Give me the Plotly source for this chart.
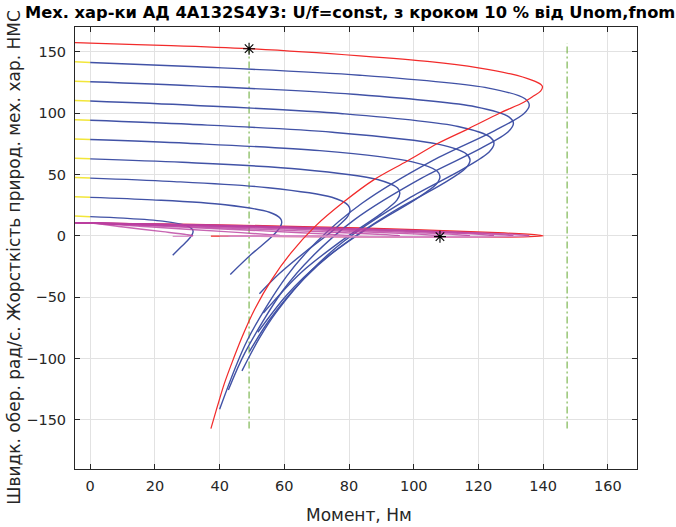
import plotly.graph_objects as go

# ---- Mechanical characteristics omega(M), U/f = const, f = 10 ... 90 % of fnom ----
# first point of each list belongs to the generator region (M < 0)
M_f10 = [-4.7, 0, 10.3, 22.4, 29.8, 31.6, 31.8, 31.5, 30.1, 28.2, 25.5]
W_f10 = [16.2, 15.71, 14.49, 12.05, 8.4, 5.34, 3.51, 1.07, -3.8, -8.7, -15.71]

M_f20 = [-4.7, 0, 19.2, 41.7, 55.4, 58.8, 59.2, 58.7, 56.0, 49.8, 43.3]
W_f20 = [31.9, 31.42, 29.4, 25.4, 19.3, 14.25, 11.22, 7.2, -0.9, -15.0, -31.42]

M_f30 = [-4.7, 0, 24.5, 55.0, 74.7, 79.7, 80.3, 79.6, 75.5, 66.6, 58.4, 52.3]
W_f30 = [47.6, 47.12, 44.5, 39.3, 31.5, 25.0, 21.12, 15.9, 5.5, -12.7, -30.9, -47.12]

M_f40 = [-4.7, 0, 28.5, 64.9, 88.8, 95.0, 95.7, 94.8, 89.8, 78.9, 65.3, 53.5]
W_f40 = [63.3, 62.83, 60.0, 54.4, 46.0, 39.0, 34.83, 29.2, 18.0, -1.6, -29.6, -62.83]

M_f50 = [-4.7, 0, 30.1, 71.0, 99.6, 107.2, 108.1, 107.0, 100.8, 87.5, 71.4, 60.7, 51.8]
W_f50 = [79.0, 78.54, 75.5, 69.5, 60.4, 52.9, 48.34, 42.3, 30.2, 9.1, -21.1, -48.3, -78.54]

M_f60 = [-4.7, 0, 30.8, 74.9, 107.5, 116.3, 117.4, 116.1, 108.9, 93.5, 75.4, 65.9, 55.6, 49.2]
W_f60 = [94.7, 94.25, 91.0, 84.5, 74.8, 66.7, 61.85, 55.4, 42.4, 19.7, -12.7, -35.4, -67.75, -94.25]

M_f70 = [-4.7, 0, 31.4, 78.0, 113.7, 123.6, 124.8, 123.3, 115.3, 98.3, 78.5, 68.3, 57.3, 52.2, 46.9]
W_f70 = [110.4, 109.96, 106.5, 99.6, 89.2, 80.55, 75.36, 68.4, 54.6, 30.4, -4.2, -28.4, -63.0, -83.8, -109.96]

M_f80 = [-4.7, 0, 32.5, 81.3, 119.0, 129.5, 130.8, 129.2, 120.7, 102.7, 81.8, 68.5, 59.6, 47.8, 42.7]
W_f80 = [126.1, 125.66, 122.3, 115.5, 105.3, 96.8, 91.66, 84.9, 71.3, 47.5, 13.5, -17.1, -44.3, -95.3, -125.66]

M_f90 = [-4.7, 0, 33.0, 83.3, 123.1, 134.4, 135.7, 134.0, 124.9, 105.8, 84.0, 70.0, 60.8, 48.6, 40.0]
W_f90 = [141.9, 141.37, 137.9, 131.0, 120.5, 111.8, 106.6, 99.6, 85.7, 61.4, 26.6, -4.8, -32.6, -84.8, -141.37]

# natural characteristic (f = fnom)
M_nat = [-4.7, 0, 25, 49.1, 83.4, 105, 120, 130, 136.5, 139.3, 139.8, 139.2, 137, 134, 126.5,
         117, 107.5, 98, 87.5, 78.5, 69.6, 62, 56, 50.8, 47, 44.3, 41.5, 39.3, 37.3]
W_nat = [157.6, 157.08, 155.2, 152.6, 146.7, 142, 137, 132, 127, 123.5, 121.5, 118, 114, 109, 100,
         87.5, 75.5, 61, 45.5, 28, 8, -14, -36, -60, -82, -100, -120, -139, -157.08]

# ---- Stiffness of the characteristics beta(M) ----
BM_f10 = [-4.7, 0, 10.3, 22.4, 29.8, 31.6, 31.8, 30.1, 28.2, 25.5]
BS_f10 = [10.8, 10.5, 7.21, 3.47, 1.07, 0.26, 0, -0.38, -0.41, -0.38]
BM_f20 = [-4.7, 0, 19.2, 41.7, 55.4, 58.8, 59.2, 56.0, 49.8, 43.3]
BS_f20 = [10.8, 10.5, 7.21, 3.47, 1.07, 0.26, 0, -0.38, -0.40, -0.33]
BM_f30 = [-4.7, 0, 24.5, 55.0, 74.7, 79.7, 80.3, 75.5, 66.6, 52.3]
BS_f30 = [10.8, 10.5, 7.64, 3.94, 1.27, 0.31, 0, -0.45, -0.46, -0.33]
BM_f40 = [-4.7, 0, 28.5, 64.9, 88.8, 95.0, 95.7, 89.8, 78.9, 53.5]
BS_f40 = [10.8, 10.5, 7.80, 4.13, 1.35, 0.34, 0, -0.48, -0.49, -0.26]
BM_f50 = [-4.7, 0, 30.1, 71.0, 99.6, 107.2, 108.1, 100.8, 87.5, 51.8]
BS_f50 = [10.8, 10.5, 8.25, 4.70, 1.63, 0.41, 0, -0.57, -0.57, -0.24]
BM_f60 = [-4.7, 0, 30.8, 74.9, 107.5, 116.3, 117.4, 108.9, 93.5, 49.2]
BS_f60 = [10.8, 10.5, 8.62, 5.21, 1.89, 0.48, 0, -0.66, -0.65, -0.22]
BM_f70 = [-4.7, 0, 31.4, 78.0, 113.7, 123.6, 124.8, 115.3, 98.3, 46.9]
BS_f70 = [10.8, 10.5, 8.88, 5.60, 2.09, 0.53, 0, -0.74, -0.71, -0.20]
BM_f80 = [-4.7, 0, 32.5, 81.3, 119.0, 129.5, 130.8, 120.7, 102.7, 42.7]
BS_f80 = [10.8, 10.5, 8.95, 5.71, 2.15, 0.55, 0, -0.76, -0.73, -0.15]
BM_f90 = [-4.7, 0, 33.0, 83.3, 123.1, 134.4, 135.7, 124.9, 105.8, 40.0]
BS_f90 = [10.8, 10.5, 9.08, 5.92, 2.27, 0.58, 0, -0.80, -0.77, -0.13]
BM_nat = [-4.7, 0, 32.0, 83.3, 126.0, 138.5, 140.0, 128.0, 107.2, 37.3]
BS_nat = [10.8, 10.5, 9.43, 6.53, 2.63, 0.68, 0, -0.93, -0.87, -0.12]

# nominal point, extra marker, nominal and maximum catalogue torques
M_nom, W_nom = 49.1, 152.6
M_mark, B_mark = 108.1, -0.6
M_lines = [49.1, 147.4]
W_line_span = [-157.08, 157.08]

x_ticks = [0, 20, 40, 60, 80, 100, 120, 140, 160]
y_ticks = [-150, -100, -50, 0, 50, 100, 150]

title_text = "Мех. хар-ки АД 4А132S4У3: U/f=const, з кроком 10 % від Unom,fnom"
x_title = "Момент, Нм"
y_title = "Швидк. обер. рад/с. Жорсткість природ. мех. хар. НМС"

BLUE = "#4152a6"
RED = "#f22b2b"
YELLOW = "#f2e63a"
MAGENTA = "#bb3fa0"
PINK = "#d88ac6"
GREEN = "#72b043"
FONT = "DejaVu Sans, Liberation Sans, sans-serif"

speed_curves = [(M_f10, W_f10), (M_f20, W_f20), (M_f30, W_f30), (M_f40, W_f40), (M_f50, W_f50),
                (M_f60, W_f60), (M_f70, W_f70), (M_f80, W_f80), (M_f90, W_f90)]
stiff_curves = [(BM_f10, BS_f10), (BM_f20, BS_f20), (BM_f30, BS_f30), (BM_f40, BS_f40),
                (BM_f50, BS_f50), (BM_f60, BS_f60), (BM_f70, BS_f70), (BM_f80, BS_f80),
                (BM_f90, BS_f90)]

fig = go.Figure()


def line(x, y, color, width=1.2, dash=None, shape="spline", opacity=1.0):
    fig.add_trace(go.Scatter(x=x, y=y, mode="lines", opacity=opacity,
                             line=dict(color=color, width=width, dash=dash, shape=shape,
                                       smoothing=0.9),
                             hoverinfo="skip", showlegend=False))


# vertical torque lines
for m in M_lines:
    line([m, m], W_line_span, GREEN, width=1.1, dash="7px,3px,2px,3px", shape="linear")

# stiffness of the natural characteristic
line(BM_nat, BS_nat, RED, width=1.3)

# speed characteristics: generator part in yellow, motor part in blue
for M, W in speed_curves:
    gx = [m for m in M if m <= 0]
    gy = [w for m, w in zip(M, W) if m <= 0]
    line(gx, gy, YELLOW, width=1.5, shape="linear")
    k = len(gx) - 1
    line(M[k:], W[k:], BLUE, width=1.4)

# stiffness: stable part (beta >= 0) and unstable part (beta <= 0)
for BM, BS in stiff_curves:
    k = BS.index(0)
    line(BM[k:], BS[k:], PINK, width=1.3, opacity=0.9)
    line(BM[:k + 1], BS[:k + 1], MAGENTA, width=1.4, opacity=0.8)

# natural characteristic
line(M_nat, W_nat, RED, width=1.25)

# markers
fig.add_trace(go.Scatter(x=[M_nom, M_mark], y=[W_nom, B_mark], mode="markers",
                         marker=dict(symbol="asterisk-open", size=10, color="black",
                                     line=dict(color="black", width=1.1)),
                         hoverinfo="skip", showlegend=False))

axis_common = dict(showline=True, linecolor="#262626", linewidth=1, mirror="ticks",
                   ticks="inside", ticklen=5, tickcolor="#262626", tickwidth=1,
                   showgrid=True, gridcolor="#e2e2e2", gridwidth=1, zeroline=False,
                   tickfont=dict(family=FONT, size=14.5, color="#262626"))

fig.update_layout(
    width=676, height=527,
    margin=dict(l=75, r=39, t=27, b=58),
    paper_bgcolor="white", plot_bgcolor="white",
    xaxis=dict(range=[-4.7, 169.0], tickvals=x_ticks, ticklabelstandoff=4, **axis_common),
    yaxis=dict(range=[-190.0, 170.3], tickvals=y_ticks, ticklabelstandoff=5, **axis_common),
    annotations=[
        dict(text="<b>" + title_text + "</b>", xref="paper", yref="paper",
             x=0.49, y=1.0 + 15 / 442.5, xanchor="center", yanchor="middle",
             showarrow=False, font=dict(family=FONT, size=16.3, color="black")),
        dict(text=x_title, xref="paper", yref="paper", x=0.505, y=-46 / 442.5,
             xanchor="center", yanchor="middle", showarrow=False,
             font=dict(family=FONT, size=17, color="#262626")),
        dict(text=y_title, xref="paper", yref="paper", x=-61 / 562, y=0.478,
             xanchor="center", yanchor="middle", textangle=-90, showarrow=False,
             font=dict(family=FONT, size=17, color="#262626")),
    ],
)

fig.write_html("out.html")
